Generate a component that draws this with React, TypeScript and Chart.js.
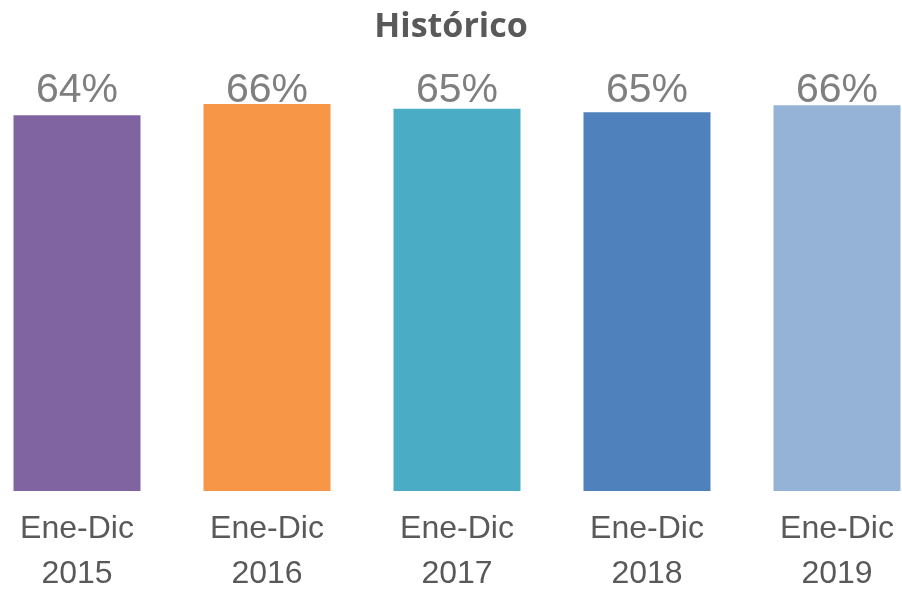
import { useEffect, useRef } from 'react';
import { Chart, registerables } from 'chart.js';

Chart.register(...registerables);

const titleText = 'Histórico';
const categories = [
  ['Ene-Dic', '2015'],
  ['Ene-Dic', '2016'],
  ['Ene-Dic', '2017'],
  ['Ene-Dic', '2018'],
  ['Ene-Dic', '2019'],
];
const values = [64.0, 65.9, 65.1, 64.5, 65.7];
const valueLabels = ['64%', '66%', '65%', '65%', '66%'];
const barColors = ['#8064A2', '#F79646', '#4BACC6', '#4F81BD', '#95B3D7'];

const FONT = '"Liberation Sans", Arial, sans-serif';

const valueLabelPlugin = {
  id: 'valueLabelPlugin',
  afterDatasetsDraw(chart: any) {
    const ctx = chart.ctx;
    const meta = chart.getDatasetMeta(0);
    ctx.save();
    ctx.font = `41px ${FONT}`;
    ctx.fillStyle = '#7F7F7F';
    ctx.textAlign = 'center';
    ctx.textBaseline = 'alphabetic';
    meta.data.forEach((bar: any, i: number) => {
      ctx.fillText(valueLabels[i], bar.x, chart.chartArea.top + 22);
    });
    ctx.restore();
  },
};

const titlePlugin = {
  id: 'titlePlugin',
  afterDraw(chart: any) {
    const ctx = chart.ctx;
    ctx.save();
    ctx.font = `bold 34px "Open Sans", sans-serif`;
    ctx.fillStyle = '#595959';
    ctx.textAlign = 'center';
    ctx.textBaseline = 'alphabetic';
    ctx.fillText(titleText, 469, 37);
    ctx.restore();
  },
};

export default function App() {
  const ref = useRef<HTMLCanvasElement | null>(null);

  useEffect(() => {
    if (!ref.current) return;
    const chart = new Chart(ref.current, {
      type: 'bar',
      data: {
        labels: categories,
        datasets: [
          {
            data: values,
            backgroundColor: barColors,
            borderWidth: 0,
            categoryPercentage: 1,
            barPercentage: 127 / 190,
          },
        ],
      },
      options: {
        animation: false,
        responsive: false,
        maintainAspectRatio: false,
        layout: { padding: { top: 80, left: 0, right: 0, bottom: 0 } },
        plugins: {
          legend: { display: false },
          title: { display: false },
          tooltip: { enabled: false },
        },
        scales: {
          x: {
            grid: { display: false },
            border: { display: false },
            ticks: {
              color: '#595959',
              font: { size: 32, family: FONT, lineHeight: 45 / 32 },
              padding: 8,
              maxRotation: 0,
              autoSkip: false,
            },
          },
          y: {
            display: false,
            min: 0,
            max: 70,
          },
        },
      },
      plugins: [valueLabelPlugin, titlePlugin],
    });
    return () => chart.destroy();
  }, []);

  return (
    <div
      style={{
        position: 'absolute',
        left: 0,
        top: 0,
        width: 902,
        height: 589,
        overflow: 'hidden',
        background: '#ffffff',
      }}
    >
      <canvas
        ref={ref}
        width={950}
        height={605}
        style={{ position: 'absolute', left: -18, top: 0, width: 950, height: 605 }}
      />
    </div>
  );
}
